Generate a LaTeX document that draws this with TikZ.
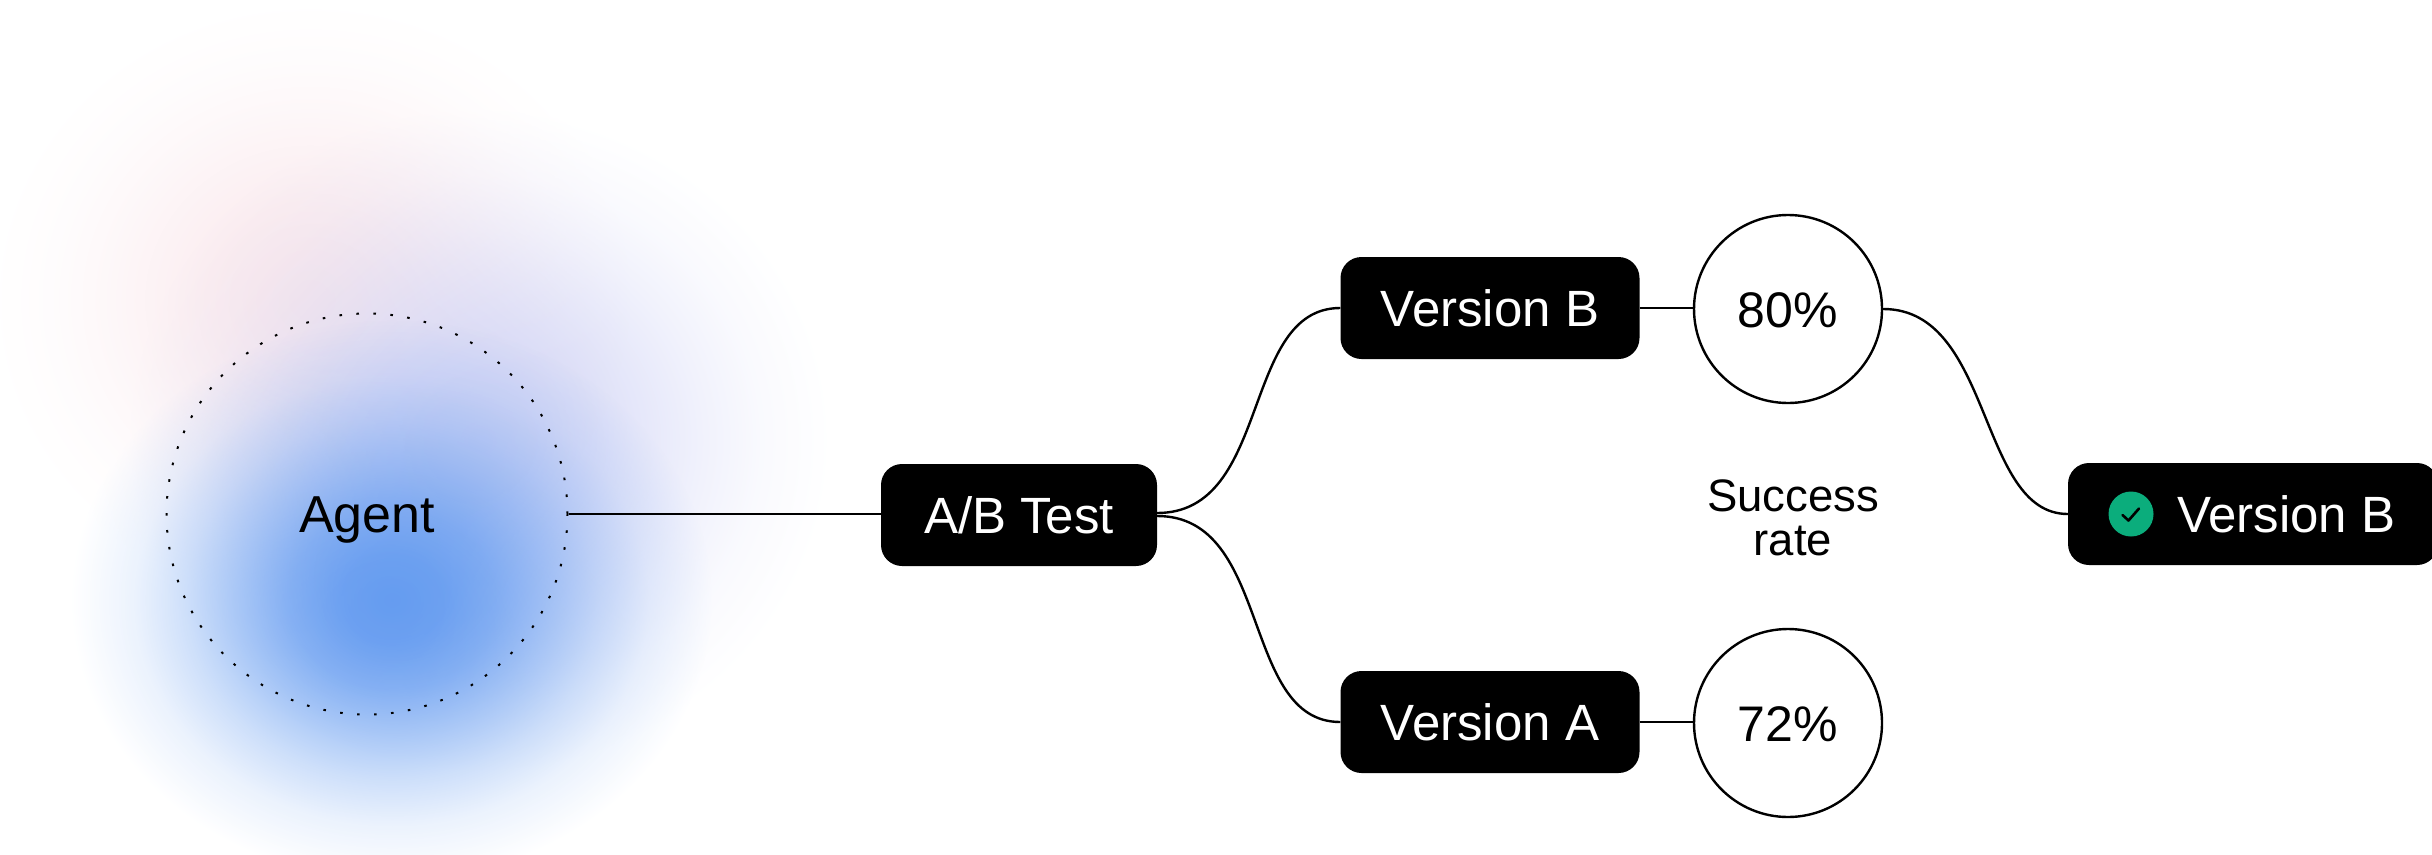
\documentclass[tikz,border=0pt]{standalone}
\usepackage{fontspec}
\setmainfont{Liberation Sans}
\usetikzlibrary{fadings}
\pgfdeclareradialshading{softshade}{\pgfpoint{0bp}{0bp}}{
 color(0bp)=(pgftransparent!0);
 color(4bp)=(pgftransparent!6);
 color(8bp)=(pgftransparent!22);
 color(12bp)=(pgftransparent!45);
 color(16bp)=(pgftransparent!68);
 color(20bp)=(pgftransparent!87);
 color(25bp)=(pgftransparent!100);
 color(50bp)=(pgftransparent!100)}
\pgfdeclarefading{softfade}{\pgfuseshading{softshade}}
\definecolor{blueblob}{HTML}{659CF0}
\definecolor{lilacblob}{HTML}{D3D6F6}
\definecolor{pinkblob}{HTML}{FAE8EC}
\definecolor{greencheck}{HTML}{0BAD7C}
\tikzset{
 x=1pt,y=-1pt,
 lbl/.style={font=\fontsize{51}{60}\selectfont,inner sep=0pt,text height=36pt,text depth=0pt},
 pill/.style={lbl,fill=black,text=white,rounded corners=21pt,minimum height=102pt},
 ratecircle/.style={lbl,font=\fontsize{50}{60}\selectfont,circle,draw=black,line width=2.4pt,fill=white,minimum size=188pt},
 wire/.style={draw=black,line width=2.4pt},
}
\begin{document}
\begin{tikzpicture}
\useasboundingbox (0,0) rectangle (2432,854);
\begin{scope}
\clip (0,0) rectangle (2432,854);
\fill[pinkblob,path fading=softfade] (310,300) circle [x radius=320,y radius=300];
\fill[lilacblob,path fading=softfade] (480,440) circle [x radius=350,y radius=330];
\fill[blueblob,path fading=softfade] (392,600) circle [x radius=320,y radius=280];
\end{scope}
\node[lbl,font=\fontsize{52}{60}\selectfont,circle,draw=black,line width=2pt,dash pattern=on 2.6pt off 14.4pt,minimum size=401pt] (agent) at (367,514) {Agent};
\node[pill,minimum width=276pt] (ab) at (1019,515) {A/B Test};
\node[pill,minimum width=299pt] (vb) at (1490,308) {Version B};
\node[pill,minimum width=299pt] (va) at (1490,722) {Version A};
\node[ratecircle] (r80) at (1788,309) {80\%};
\node[ratecircle] (r72) at (1788,723) {72\%};
\node[font=\fontsize{45.5}{44}\selectfont,align=center,inner sep=0pt] (sr) at (1793,518) {Success\\rate};
\node[fill=black,rounded corners=21pt,minimum width=370pt,minimum height=102pt,inner sep=0pt] (win) at (2253,514) {};
\node[circle,fill=greencheck,minimum size=45pt,inner sep=0pt] (ok) at (2131,514) {};
\node[lbl,text=white,anchor=west] (wintext) at (2177,514) {Version B};
\draw[black,line width=2.6pt,line cap=round,line join=round] ([shift={(-8.5,1)}]ok.center) -- ([shift={(-2.5,6.5)}]ok.center) -- ([shift={(8,-5.5)}]ok.center);
\draw[wire] (agent.east) -- (agent.east -| ab.west);
\draw[wire] ([yshift=2pt]ab.east) .. controls +(115,0) and +(-100,0) .. (vb.west);
\draw[wire] ([yshift=-1pt]ab.east) .. controls +(115,0) and +(-100,0) .. (va.west);
\draw[wire] (vb.east) -- (r80.west |- vb.east);
\draw[wire] (va.east) -- (r72.west |- va.east);
\draw[wire] (r80.east) .. controls +(110,0) and +(-90,0) .. (win.west);
\end{tikzpicture}
\end{document}
